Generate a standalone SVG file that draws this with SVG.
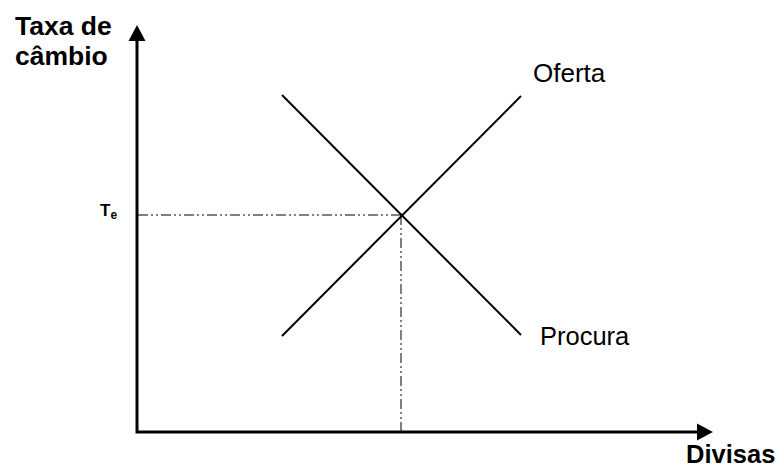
<svg xmlns="http://www.w3.org/2000/svg" width="778" height="468" viewBox="0 0 778 468">
<style>
.bold{font-family:"Liberation Sans",Arial,sans-serif;font-weight:bold;fill:#000}
.reg{font-family:"Liberation Sans",Arial,sans-serif;fill:#000}
.curve{stroke:#000;stroke-width:2;fill:none}
.guide{stroke:#000;stroke-width:1;fill:none;stroke-dasharray:10 3 2 3 2 3}
.axis{stroke:#000;stroke-width:3;fill:none}
</style>
<rect width="778" height="468" fill="#fff"/>
<g id="connectors">
<line class="guide" x1="138" y1="215" x2="401" y2="215"/>
<line class="guide" x1="401" y1="215" x2="401" y2="431"/>
<line class="curve" x1="282" y1="336" x2="521" y2="96"/>
<line class="curve" x1="282" y1="95" x2="521" y2="335"/>
</g>
<g id="axes">
<polyline class="axis" points="137,40 137,432 698,432"/>
<polygon points="137,25 128.5,41 145.5,41" fill="#000"/>
<polygon points="713,432 697,423.5 697,440.5" fill="#000"/>
</g>
<g id="y-label"><text class="bold" font-size="26.5" x="15" y="35">Taxa de</text><text class="bold" font-size="26.5" x="15" y="65">câmbio</text></g>
<g id="x-label"><text class="bold" font-size="25.5" x="686" y="463">Divisas</text></g>
<g id="te-label"><text class="bold" font-size="17" x="100" y="216">T<tspan font-size="12" dy="3">e</tspan></text></g>
<g id="oferta"><text class="reg" font-size="26" x="533" y="82">Oferta</text></g>
<g id="procura"><text class="reg" font-size="25.5" x="540" y="345">Procura</text></g>
</svg>
